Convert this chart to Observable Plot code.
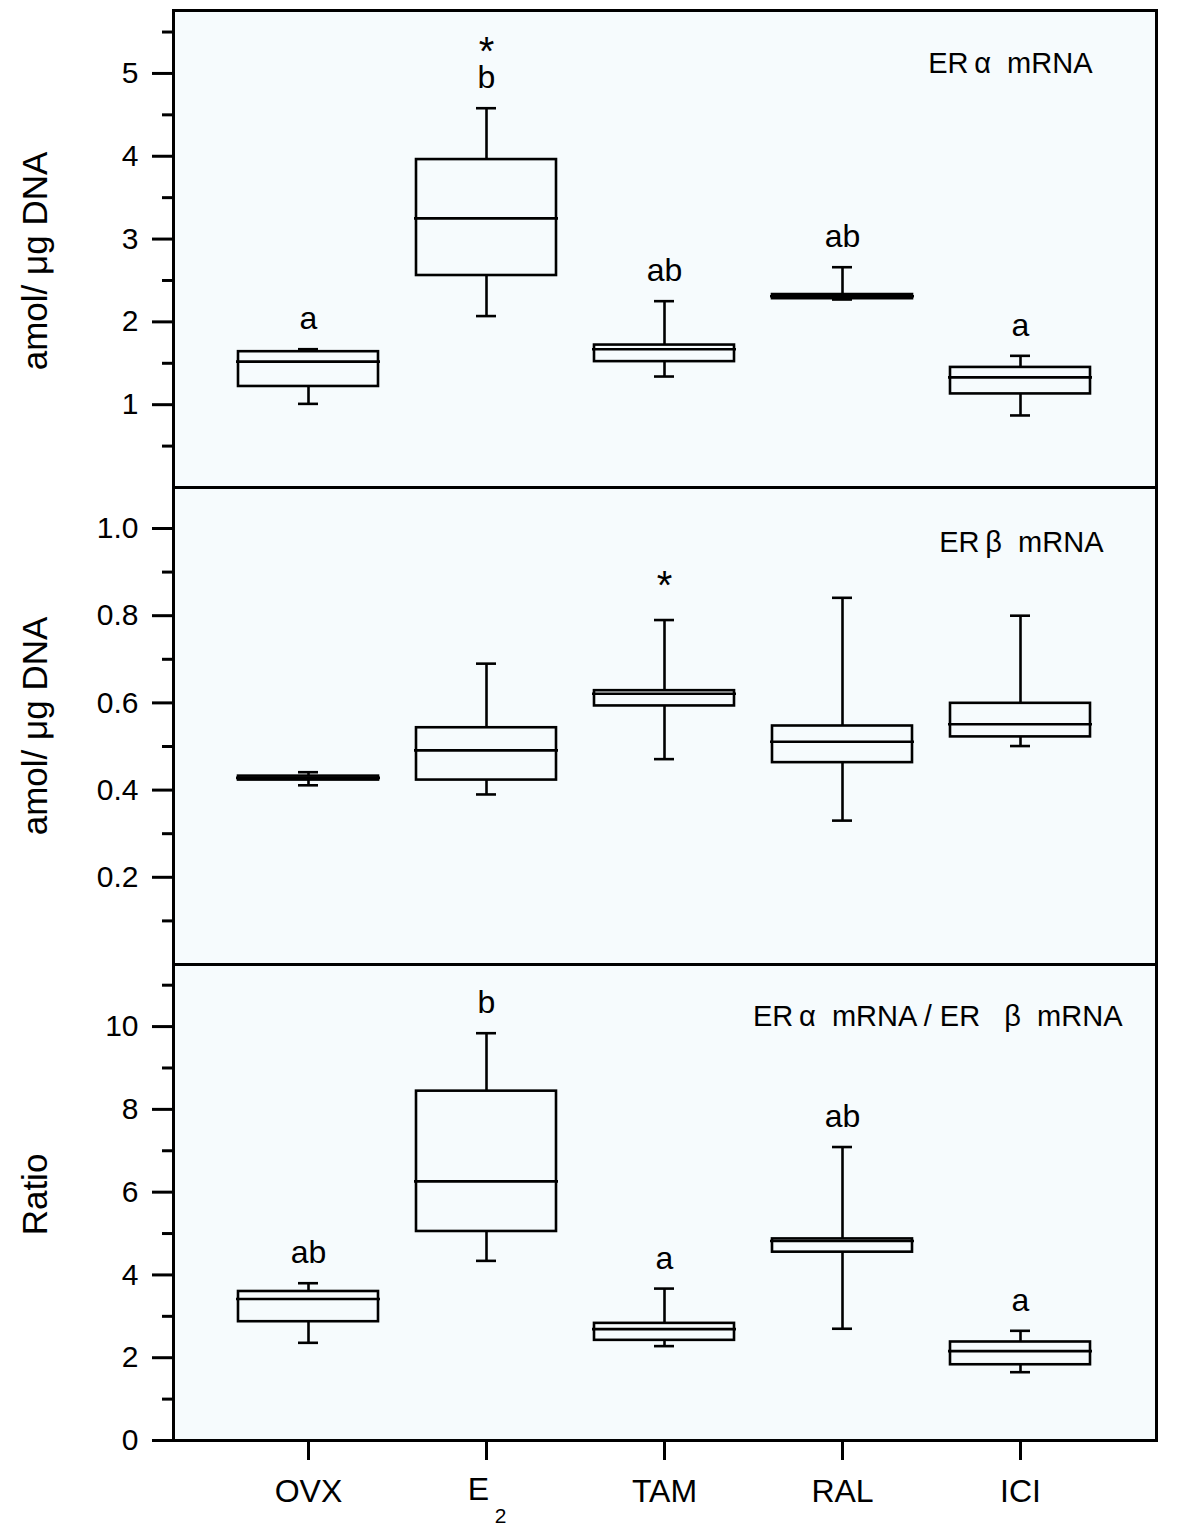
<!DOCTYPE html>
<html><head><meta charset="utf-8">
<script src="https://cdn.jsdelivr.net/npm/d3@7"></script>
<script src="https://cdn.jsdelivr.net/npm/@observablehq/plot@0.6"></script>
<style>
body{margin:0;background:#fff;}
#chart{width:1199px;}
#chart svg{display:block;}
</style>
</head><body><div id="chart"></div>
<script>
// ---------- data ----------
const groups = ["OVX", "E2", "TAM", "RAL", "ICI"];

// Panel 1: ERα mRNA (amol/µg DNA)
const alphaLo  = [1.01, 2.07, 1.34, 2.27, 0.87];
const alphaQ1  = [1.22, 2.56, 1.52, 2.28, 1.13];
const alphaMed = [1.52, 3.25, 1.67, 2.31, 1.33];
const alphaQ3  = [1.64, 3.96, 1.72, 2.33, 1.45];
const alphaHi  = [1.67, 4.58, 2.25, 2.66, 1.59];
const alphaLetters = ["a", "b", "ab", "ab", "a"];
const alphaStars   = ["", "*", "", "", ""];

// Panel 2: ERβ mRNA (amol/µg DNA)
const betaLo  = [0.411, 0.390, 0.471, 0.330, 0.501];
const betaQ1  = [0.423, 0.423, 0.593, 0.463, 0.522];
const betaMed = [0.428, 0.491, 0.621, 0.511, 0.551];
const betaQ3  = [0.432, 0.543, 0.628, 0.547, 0.599];
const betaHi  = [0.441, 0.690, 0.790, 0.841, 0.800];
const betaLetters = ["", "", "", "", ""];
const betaStars   = ["", "", "*", "", ""];

// Panel 3: ratio ERα / ERβ
const ratioLo  = [2.36, 4.34, 2.28, 2.70, 1.65];
const ratioQ1  = [2.87, 5.05, 2.42, 4.55, 1.83];
const ratioMed = [3.42, 6.26, 2.69, 4.82, 2.16];
const ratioQ3  = [3.60, 8.44, 2.83, 4.87, 2.38];
const ratioHi  = [3.80, 9.84, 3.67, 7.09, 2.65];
const ratioLetters = ["ab", "b", "a", "ab", "a"];
const ratioStars   = ["", "", "", "", ""];

const alphaTicks = [1, 2, 3, 4, 5];
const alphaMinor = [0.5, 1.5, 2.5, 3.5, 4.5, 5.5];
const betaTicks = [0.2, 0.4, 0.6, 0.8, 1.0];
const betaMinor = [0.1, 0.3, 0.5, 0.7, 0.9];
const ratioTicks = [0, 2, 4, 6, 8, 10];
const ratioMinor = [1, 3, 5, 7, 9, 11];

const ylabel1 = "amol/ μg DNA";
const ylabel3 = "Ratio";
const title1 = "ER\u2009α  mRNA";
const title2 = "ER\u2009β  mRNA";
const title3 = "ER\u2009α  mRNA / ER   β  mRNA";

// ---------- helpers ----------
const FONT = "'Liberation Sans', Arial, Helvetica, sans-serif";
const BG = "#f6fbfd";
const SW = 2.6;

function rows(lo, q1, med, q3, hi, letters, stars) {
  return groups.map((g, i) => ({g, lo: lo[i], q1: q1[i], med: med[i], q3: q3[i], hi: hi[i], letter: letters[i], star: stars[i]}));
}

function panel(o) {
  const data = o.data;
  const marks = [
    Plot.frame({fill: BG, stroke: null}),
    Plot.ruleX(data, {x: "g", y1: "q3", y2: "hi", strokeWidth: SW}),
    Plot.ruleX(data, {x: "g", y1: "lo", y2: "q1", strokeWidth: SW}),
    Plot.tickY(data, {x: "g", y: "hi", insetLeft: 60, insetRight: 60, strokeWidth: SW}),
    Plot.tickY(data, {x: "g", y: "lo", insetLeft: 60, insetRight: 60, strokeWidth: SW}),
    Plot.barY(data, {x: "g", y1: "q1", y2: "q3", fill: "none", stroke: "black", strokeWidth: SW}),
    Plot.tickY(data, {x: "g", y: "med", insetLeft: -2, insetRight: -2, strokeWidth: SW}),
    Plot.text(data, {x: "g", y: "hi", text: "letter", dy: -30, fontSize: 32}),
    Plot.text(data, {x: "g", y: "hi", text: "star", dy: o.starDy, fontSize: 40}),
    Plot.axisY({ticks: o.major, tickSize: 21, tickPadding: 14, fontSize: 30, strokeWidth: 3, tickFormat: o.fmt, label: null}),
    Plot.axisY({ticks: o.minor, tickSize: 11, tickFormat: () => "", strokeWidth: 3, label: null}),
    Plot.text([o.ylabel], {frameAnchor: "left", dx: -138, dy: o.ylabelDy, rotate: -90, textAnchor: "middle", lineAnchor: "middle", fontSize: 35}),
    Plot.text([o.title], {frameAnchor: "top-right", textAnchor: "end", lineAnchor: "middle", dx: o.titleDx, dy: o.titleDy, fontSize: 29}),
    Plot.frame({stroke: "black", strokeWidth: 3})
  ];
  if (o.xAxis) {
    marks.push(
      Plot.axisX({tickSize: 20, tickPadding: 19, fontSize: 32, strokeWidth: 3, tickFormat: d => d === "E2" ? "" : d, label: null}),
      Plot.text(["E2"], {x: d => d, frameAnchor: "bottom", text: () => "E", dx: -8, dy: 59, fontSize: 32}),
      Plot.text(["E2"], {x: d => d, frameAnchor: "bottom", text: () => "2", dx: 14, dy: 82, fontSize: 21})
    );
  }
  return Plot.plot({
    width: 1199,
    height: o.height,
    marginLeft: 173,
    marginRight: 43,
    marginTop: o.marginTop,
    marginBottom: o.marginBottom,
    style: {fontFamily: FONT, background: "transparent", color: "black"},
    x: {type: "band", domain: groups, paddingInner: 0.211, paddingOuter: 0.355, align: 0.5, axis: o.xAxis ? undefined : null, label: null},
    y: {domain: o.domain, label: null},
    marks
  });
}

const root = document.getElementById("chart");
root.append(panel({
  data: rows(alphaLo, alphaQ1, alphaMed, alphaQ3, alphaHi, alphaLetters, alphaStars),
  domain: [0, 5.76], major: alphaTicks, minor: alphaMinor, fmt: d3.format("d"),
  height: 487, marginTop: 10, marginBottom: 0,
  ylabel: ylabel1, ylabelDy: 12, title: title1, titleDx: -64, titleDy: 53, starDy: -56
}));
root.append(panel({
  data: rows(betaLo, betaQ1, betaMed, betaQ3, betaHi, betaLetters, betaStars),
  domain: [0, 1.094], major: betaTicks, minor: betaMinor, fmt: d3.format(".1f"),
  height: 477, marginTop: 0, marginBottom: 0,
  ylabel: ylabel1, ylabelDy: 0, title: title2, titleDx: -53, titleDy: 55, starDy: -34
}));
root.append(panel({
  data: rows(ratioLo, ratioQ1, ratioMed, ratioQ3, ratioHi, ratioLetters, ratioStars),
  domain: [0, 11.5], major: ratioTicks, minor: ratioMinor, fmt: d3.format("d"),
  height: 573, marginTop: 0, marginBottom: 97,
  ylabel: ylabel3, ylabelDy: -8, title: title3, titleDx: -34, titleDy: 52, starDy: -56, xAxis: true
}));
</script>
</body></html>
